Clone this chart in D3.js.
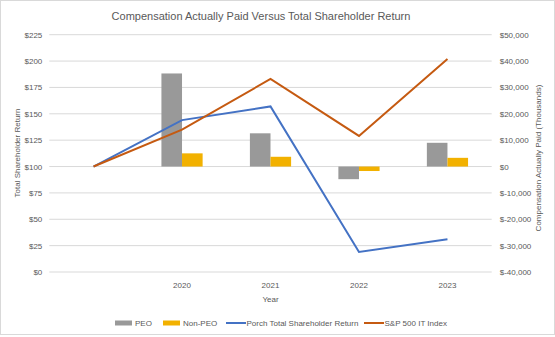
<!DOCTYPE html>
<html>
<head>
<meta charset="utf-8">
<script src="https://cdn.jsdelivr.net/npm/d3@7"></script>
<style>
  body { margin: 0; background: #fff; }
  text { font-family: "Liberation Sans", Arial, sans-serif; fill: #595959; }
</style>
</head>
<body>
<div id="chart"></div>
<script>
// years on the category axis (first one carries no label)
var years = ["2019", "2020", "2021", "2022", "2023"];
var yearLabels = ["", "2020", "2021", "2022", "2023"];

// compensation actually paid, thousands of dollars
var peo = [null, 35300, 12600, -4800, 9000];
var nonPeo = [null, 5000, 3700, -1700, 3300];

// total shareholder return, value of $100 invested
var porchTsr = [100, 144, 157, 19, 31];
var spItIndex = [100, 135, 183, 129, 202];

var tsrTicks = [0, 25, 50, 75, 100, 125, 150, 175, 200, 225];
var capTicks = [-40000, -30000, -20000, -10000, 0, 10000, 20000, 30000, 40000, 50000];

var width = 555, height = 337;
var margin = {top: 34.7, right: 63.3, bottom: 65, left: 49.3};
var plotW = width - margin.left - margin.right;
var plotH = height - margin.top - margin.bottom;

var svg = d3.select("#chart").append("svg")
    .attr("width", width)
    .attr("height", height);

// outer frame
svg.append("rect")
    .attr("x", 0.5).attr("y", 0.5)
    .attr("width", width - 1).attr("height", height - 3)
    .attr("fill", "#fff")
    .attr("stroke", "#d9d9d9");

svg.append("text")
    .attr("x", 261).attr("y", 19.5)
    .attr("text-anchor", "middle")
    .style("font-size", "11px")
    .text("Compensation Actually Paid Versus Total Shareholder Return");

var g = svg.append("g")
    .attr("transform", "translate(" + margin.left + "," + margin.top + ")");

//scales
var x = d3.scaleBand().domain(years).range([0, plotW]);
var xSub = d3.scaleBand().domain(["PEO", "Non-PEO"]).range([-20.6, 20.6]);
var yLeft = d3.scaleLinear().domain([0, 225]).range([plotH, 0]);
var yRight = d3.scaleLinear().domain([-40000, 50000]).range([plotH, 0]);
var cx = d => x(d) + x.bandwidth() / 2;

// gridlines
g.append("g").selectAll("line").data(tsrTicks).enter().append("line")
    .attr("x1", 0).attr("x2", plotW)
    .attr("y1", d => yLeft(d)).attr("y2", d => yLeft(d))
    .attr("stroke", "#d9d9d9").attr("stroke-width", 1);

// left axis
var leftAxis = g.append("g")
    .call(d3.axisLeft(yLeft).tickValues(tsrTicks).tickSize(0).tickPadding(7)
      .tickFormat(d => "$" + d));
leftAxis.select(".domain").remove();
leftAxis.selectAll("text").style("font-size", "8px").style("fill", "#595959")
    .style("font-family", "Liberation Sans, Arial, sans-serif");

// right axis
var rightAxis = g.append("g")
    .attr("transform", "translate(" + plotW + ",0)")
    .call(d3.axisRight(yRight).tickValues(capTicks).tickSize(0).tickPadding(8)
      .tickFormat(d => d < 0 ? "$-" + d3.format(",")(-d) : "$" + d3.format(",")(d)));
rightAxis.select(".domain").remove();
rightAxis.selectAll("text").style("font-size", "8px").style("fill", "#595959")
    .style("font-family", "Liberation Sans, Arial, sans-serif");

// year labels
g.append("g").selectAll("text").data(years).enter().append("text")
    .attr("x", d => cx(d))
    .attr("y", plotH + 16)
    .attr("text-anchor", "middle")
    .style("font-size", "8px")
    .text((d, i) => yearLabels[i]);

//bars
var barData = [];
years.forEach(function(yr, i) {
  if (peo[i] !== null) barData.push({year: yr, key: "PEO", v: peo[i], color: "#999999"});
  if (nonPeo[i] !== null) barData.push({year: yr, key: "Non-PEO", v: nonPeo[i], color: "#f2b100"});
});
g.append("g").selectAll("rect").data(barData).enter().append("rect")
    .attr("x", d => cx(d.year) + xSub(d.key))
    .attr("width", xSub.bandwidth())
    .attr("y", d => yRight(Math.max(0, d.v)))
    .attr("height", d => Math.abs(yRight(d.v) - yRight(0)))
    .style("fill", d => d.color);

//lines
var line = d3.line()
    .x((d, i) => cx(years[i]))
    .y(d => yLeft(d));
g.append("path").datum(porchTsr)
    .attr("d", line).attr("fill", "none")
    .attr("stroke", "#4472c4").attr("stroke-width", 2);
g.append("path").datum(spItIndex)
    .attr("d", line).attr("fill", "none")
    .attr("stroke", "#c55a11").attr("stroke-width", 2);

// axis titles
svg.append("text")
    .attr("transform", "translate(20,153) rotate(-90)")
    .attr("text-anchor", "middle")
    .style("font-size", "8px")
    .text("Total Shareholder Return");
svg.append("text")
    .attr("transform", "translate(541,158) rotate(-90)")
    .attr("text-anchor", "middle")
    .style("font-size", "8px")
    .text("Compensation Actually Paid (Thousands)");
svg.append("text")
    .attr("x", cx("2021") + margin.left).attr("y", 302)
    .attr("text-anchor", "middle")
    .style("font-size", "8px")
    .text("Year");

// legend
var legend = [
  {name: "PEO", color: "#999999", type: "bar", x: 115},
  {name: "Non-PEO", color: "#f2b100", type: "bar", x: 163},
  {name: "Porch Total Shareholder Return", color: "#4472c4", type: "line", x: 226},
  {name: "S&P 500 IT Index", color: "#c55a11", type: "line", x: 364}
];
var lg = svg.append("g").attr("transform", "translate(0,323)");
legend.forEach(function(d) {
  if (d.type === "bar") {
    lg.append("rect").attr("x", d.x).attr("y", -2.5).attr("width", 17).attr("height", 5)
      .style("fill", d.color);
  } else {
    lg.append("line").attr("x1", d.x).attr("x2", d.x + 20).attr("y1", 0).attr("y2", 0)
      .attr("stroke", d.color).attr("stroke-width", 2);
  }
  lg.append("text").attr("x", d.x + (d.type === "bar" ? 20 : 20.5)).attr("y", 3)
    .style("font-size", "8px")
    .text(d.name);
});
</script>
</body>
</html>
